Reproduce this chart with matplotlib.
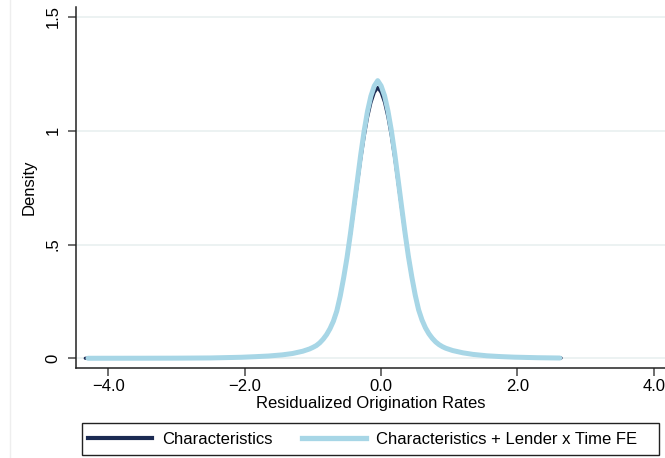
import matplotlib.pyplot as plt
from matplotlib.lines import Line2D
from matplotlib.patches import Rectangle

plt.rcParams['font.family'] = ['Liberation Sans', 'DejaVu Sans']

# kernel density of residualized origination rates
x_char = [-4.34, -3.5, -3.0, -2.5, -2.05, -1.85, -1.65, -1.45, -1.3, -1.15,
          -1.05, -1.0, -0.95, -0.9, -0.85, -0.8, -0.75, -0.7, -0.65, -0.6,
          -0.55, -0.5, -0.45, -0.4, -0.35, -0.3, -0.25, -0.2, -0.15, -0.1,
          -0.05, 0.0, 0.05, 0.1, 0.15, 0.2, 0.25, 0.3, 0.35, 0.4,
          0.45, 0.5, 0.55, 0.6, 0.65, 0.7, 0.75, 0.8, 0.85, 0.9,
          0.95, 1.05, 1.2, 1.35, 1.55, 1.75, 1.95, 2.3, 2.64]
d_char = [0.0001, 0.0003, 0.0006, 0.0015, 0.0045, 0.007, 0.010, 0.015, 0.021, 0.031,
          0.041, 0.048, 0.056, 0.068, 0.084, 0.104, 0.130, 0.163, 0.208, 0.273,
          0.353, 0.443, 0.543, 0.653, 0.763, 0.873, 0.973, 1.058, 1.123, 1.168,
          1.19, 1.168, 1.125, 1.06, 0.977, 0.878, 0.768, 0.658, 0.548, 0.448,
          0.358, 0.278, 0.213, 0.168, 0.134, 0.108, 0.088, 0.072, 0.060, 0.051,
          0.044, 0.034, 0.024, 0.017, 0.011, 0.0075, 0.005, 0.0025, 0.0012]

x_fe = [-4.30, -3.5, -3.0, -2.5, -2.05, -1.85, -1.65, -1.45, -1.3, -1.15,
        -1.05, -1.0, -0.95, -0.9, -0.85, -0.8, -0.75, -0.7, -0.65, -0.6,
        -0.55, -0.5, -0.45, -0.4, -0.35, -0.3, -0.25, -0.2, -0.15, -0.1,
        -0.05, 0.0, 0.05, 0.1, 0.15, 0.2, 0.25, 0.3, 0.35, 0.4,
        0.45, 0.5, 0.55, 0.6, 0.65, 0.7, 0.75, 0.8, 0.85, 0.9,
        0.95, 1.05, 1.2, 1.35, 1.55, 1.75, 1.95, 2.3, 2.62]
d_fe = [0.0001, 0.0003, 0.0006, 0.0015, 0.0045, 0.007, 0.010, 0.015, 0.021, 0.031,
        0.041, 0.048, 0.056, 0.068, 0.084, 0.104, 0.130, 0.163, 0.208, 0.273,
        0.353, 0.443, 0.548, 0.662, 0.778, 0.893, 0.997, 1.085, 1.152, 1.197,
        1.22, 1.197, 1.154, 1.087, 1.001, 0.898, 0.783, 0.667, 0.553, 0.448,
        0.358, 0.278, 0.213, 0.168, 0.134, 0.108, 0.088, 0.072, 0.060, 0.051,
        0.044, 0.034, 0.024, 0.017, 0.011, 0.0075, 0.005, 0.0025, 0.0012]

labels = ["Characteristics", "Characteristics + Lender x Time FE"]
xticks = [-4, -2, 0, 2, 4]
xtick_labels = ["\u22124.0", "\u22122.0", "0.0", "2.0", "4.0"]
yticks = [0, 0.5, 1, 1.5]
ytick_labels = ["0", ".5", "1", "1.5"]

W, H = 665, 458
fig = plt.figure(figsize=(W / 100, H / 100), dpi=100)
ax = fig.add_axes([75.7 / W, 89.7 / H, 1 - 75.7 / W, 361.6 / H])

ax.plot(x_char, d_char, color="#1b2a52", lw=2.3, solid_capstyle="round",
        label=labels[0], zorder=3)
ax.plot(x_fe, d_fe, color="#a7d6e6", lw=3.6, solid_capstyle="round",
        label=labels[1], zorder=4)

ax.set_xlim(-4.48, 4.164)
ax.set_ylim(-0.044, 1.545)

for y in yticks:
    ax.axhline(y, color="#eaf1f1", lw=1.3, zorder=1)

ax.set_xticks(xticks)
ax.set_xticklabels(xtick_labels)
ax.set_yticks(yticks)
ax.set_yticklabels(ytick_labels, rotation=90, va="center")
ax.tick_params(axis="both", labelsize=12, length=6, width=1.2, color="#555555")
ax.tick_params(axis="x", pad=2)
ax.tick_params(axis="y", pad=5)
for lab in ax.get_xticklabels():
    lab.set_clip_on(False)

for s in ["top", "right"]:
    ax.spines[s].set_visible(False)
for s in ["left", "bottom"]:
    ax.spines[s].set_linewidth(1.1)
    ax.spines[s].set_color("#222222")

ax.set_xlabel("Residualized Origination Rates", fontsize=12, labelpad=1)
ax.set_ylabel("Density", fontsize=12, labelpad=6)

# legend: entries without frame, box drawn separately (Stata style)
handles = [Line2D([], [], color="#1b2a52", lw=3.0),
           Line2D([], [], color="#a7d6e6", lw=3.8)]
fig.legend(handles, labels, loc="center left", ncol=2,
           bbox_to_anchor=(88 / W, (H - 439) / H),
           borderaxespad=0, fontsize=12, handlelength=3.85,
           handletextpad=0.6, columnspacing=1.75, frameon=False,
           borderpad=0.0)
fig.add_artist(Rectangle((81.7 / W, (H - 455) / H), 577.3 / W, 32 / H,
                         transform=fig.transFigure, fill=False,
                         edgecolor="#222222", lw=1.0))

fig.add_artist(Line2D([10 / W, 10 / W], [0, 1], color="#eeeeee", lw=1))

fig.savefig("out.png", dpi=100)
